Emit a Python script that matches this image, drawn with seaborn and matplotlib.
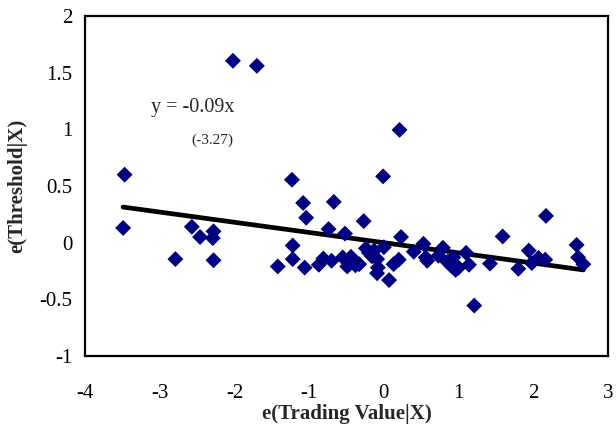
import numpy as np
import pandas as pd
import matplotlib
matplotlib.use("Agg")
import matplotlib.pyplot as plt
import seaborn as sns

# partial regression residuals
trading_resid = [-3.47, -3.49, -2.79, -2.57, -2.46, -2.28, -2.29, -2.28, -2.02, -1.70,
                 -1.42, -1.23, -1.22, -1.22, -1.08, -1.04, -1.06, -0.87, -0.81, -0.74,
                 -0.70, -0.67, -0.52, -0.49, -0.44, -0.38, -0.33, -0.27, -0.24, -0.20,
                 -0.16, -0.13, -0.09, -0.08, -0.09, 0.00, -0.01, 0.07, 0.13, 0.20,
                 0.21, 0.23, 0.40, 0.53, 0.56, 0.58, 0.73, 0.79, 0.85, 0.91,
                 0.96, 1.00, 1.10, 1.14, 1.21, 1.42, 1.59, 1.80, 1.94, 1.98,
                 2.07, 2.16, 2.17, 2.58, 2.60, 2.67, 0.93, -0.55]
threshold_resid = [0.60, 0.13, -0.145, 0.14, 0.05, 0.10, 0.04, -0.155, 1.605, 1.56,
                   -0.21, 0.555, -0.025, -0.145, 0.35, 0.22, -0.22, -0.195, -0.14, 0.12,
                   -0.16, 0.36, 0.08, -0.21, -0.125, -0.20, -0.19, 0.19, -0.05, -0.09,
                   -0.12, -0.07, -0.145, -0.22, -0.27, -0.04, 0.585, -0.33, -0.19, -0.15,
                   0.995, 0.05, -0.08, -0.01, -0.13, -0.16, -0.115, -0.045, -0.17, -0.21,
                   -0.24, -0.22, -0.09, -0.195, -0.555, -0.185, 0.055, -0.23, -0.07, -0.18,
                   -0.135, -0.15, 0.236, -0.02, -0.13, -0.19, -0.13, -0.13]
slope = -0.09
t_stat = -3.27
x_ticks = [-4, -3, -2, -1, 0, 1, 2, 3]
y_ticks = [-1, -0.5, 0, 0.5, 1, 1.5, 2]

df = pd.DataFrame({"x": trading_resid, "y": threshold_resid})

sns.set_theme(style="white")
plt.rcParams["font.family"] = ["Liberation Serif", "DejaVu Serif"]
plt.rcParams["axes.unicode_minus"] = False

fig = plt.figure(figsize=(6.16, 4.30), dpi=100)
ax = fig.add_axes([85 / 616, 1 - 356 / 430, 523 / 616, 340 / 430])

sns.scatterplot(data=df, x="x", y="y", marker="D", s=66, color="#000080",
                edgecolor="none", ax=ax, zorder=3)

xs = np.array([df["x"].min(), df["x"].max()])
ax.plot(xs, slope * xs, color="black", linewidth=3.4, solid_capstyle="round", zorder=2)

ax.text(-3.11, 1.19, f"y = {slope:.2f}x", fontsize=14.5, ha="left", va="center")
ax.text(-2.30, 0.905, f"({t_stat:.2f})", fontsize=11, ha="center", va="center")

ax.set_xlim(-4, 3)
ax.set_ylim(-1, 2)
ax.set_xticks(x_ticks)
ax.set_xticklabels([f"{t:g}" for t in x_ticks])
ax.set_yticks(y_ticks)
ax.set_yticklabels([f"{t:g}" for t in y_ticks])
ax.tick_params(axis="both", length=0, labelsize=15, colors="black")
ax.tick_params(axis="x", pad=20)
ax.tick_params(axis="y", pad=9)
ax.set_xlabel("e(Trading Value|X)", fontsize=15, fontweight="bold", labelpad=1)
ax.set_ylabel("e(Threshold|X)", fontsize=15, fontweight="bold", labelpad=9)
for sp in ax.spines.values():
    sp.set_color("black")
    sp.set_linewidth(1.6)

fig.savefig("out.png", dpi=100)
